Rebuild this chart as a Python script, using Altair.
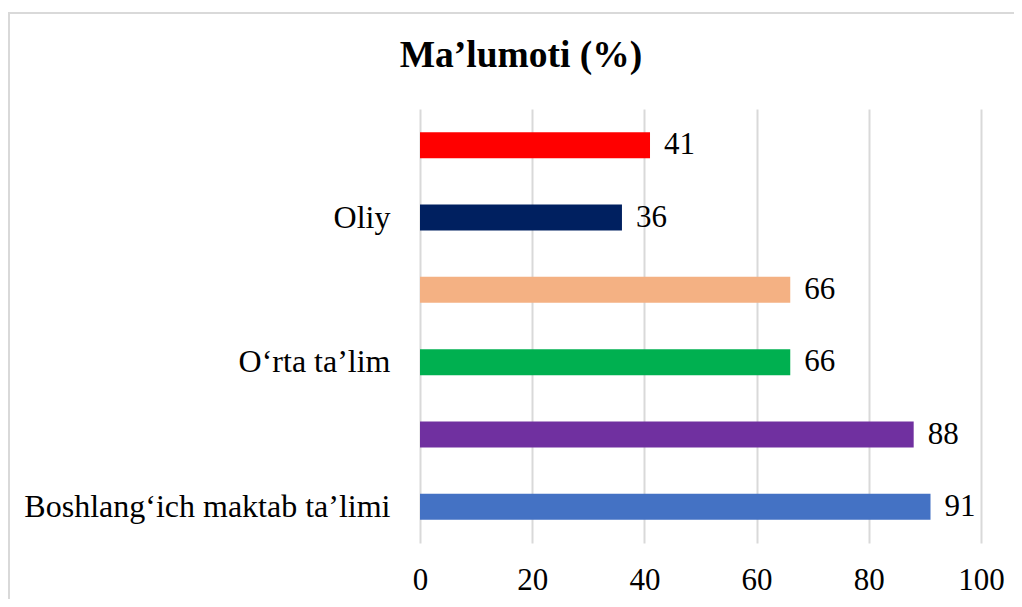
import altair as alt
import pandas as pd

keys = ["r1", "r2", "r3", "r4", "r5", "r6"]
labels = ["", "Oliy", "", "O‘rta ta’lim", "", "Boshlang‘ich maktab ta’limi"]
values = [41, 36, 66, 66, 88, 91]
colors = ["#FF0000", "#002060", "#F4B183", "#00B050", "#7030A0", "#4472C4"]
x_ticks = [0, 20, 40, 60, 80, 100]
title_text = ["Ma’lumoti (%)"]

df = pd.DataFrame({"key": keys, "label": labels, "value": values})

label_map = "{" + ",".join(f"'{k}':'{l}'" for k, l in zip(keys, labels)) + "}"

FONT = "Liberation Serif"

y_enc = alt.Y(
    "key:N",
    sort=keys,
    scale=alt.Scale(paddingInner=0.64, paddingOuter=0.32),
    axis=alt.Axis(
        title=None,
        labelExpr=f"{label_map}[datum.value]",
        labelFont=FONT,
        labelFontSize=32,
        labelColor="#000000",
        labelPadding=30,
        ticks=False,
        domain=False,
        grid=False,
        labelLimit=500,
    ),
)

x_enc = alt.X(
    "value:Q",
    scale=alt.Scale(domain=[0, 100], nice=False),
    axis=alt.Axis(
        title=None,
        values=x_ticks,
        labelFont=FONT,
        labelFontSize=31,
        labelColor="#000000",
        labelPadding=22,
        ticks=False,
        domain=False,
        grid=True,
        gridColor="#d9d9d9",
        gridWidth=2,
        labelFlush=False,
    ),
)

bars = alt.Chart(df).mark_bar().encode(
    x=x_enc,
    y=y_enc,
    color=alt.Color("key:N", scale=alt.Scale(domain=keys, range=colors), legend=None),
)

texts = alt.Chart(df).mark_text(
    align="left", baseline="middle", dx=14, font=FONT, fontSize=31, color="#000000"
).encode(
    x="value:Q",
    y=alt.Y("key:N", sort=keys),
    text="value:Q",
)

border = alt.Chart(pd.DataFrame({"a": [0]})).mark_rect(
    fill=None, stroke="#d9d9d9", strokeWidth=2
).encode(
    x=alt.value(-411),
    x2=alt.value(700),
    y=alt.value(-96),
    y2=alt.value(700),
)

title = alt.Chart(pd.DataFrame({"t": title_text})).mark_text(
    align="center", baseline="alphabetic", font=FONT, fontSize=37.5,
    fontWeight="bold", color="#000000"
).encode(
    x=alt.value(101),
    y=alt.value(-42),
    text="t:N",
)

chart = alt.layer(border, bars, texts, title).properties(
    width=561,
    height=434,
    autosize=alt.AutoSizeParams(type="none"),
    padding={"left": 412, "top": 101, "right": 33, "bottom": 56},
).configure_view(stroke=None)

chart.save("out.html", embed_options={"renderer": "svg", "actions": False})
